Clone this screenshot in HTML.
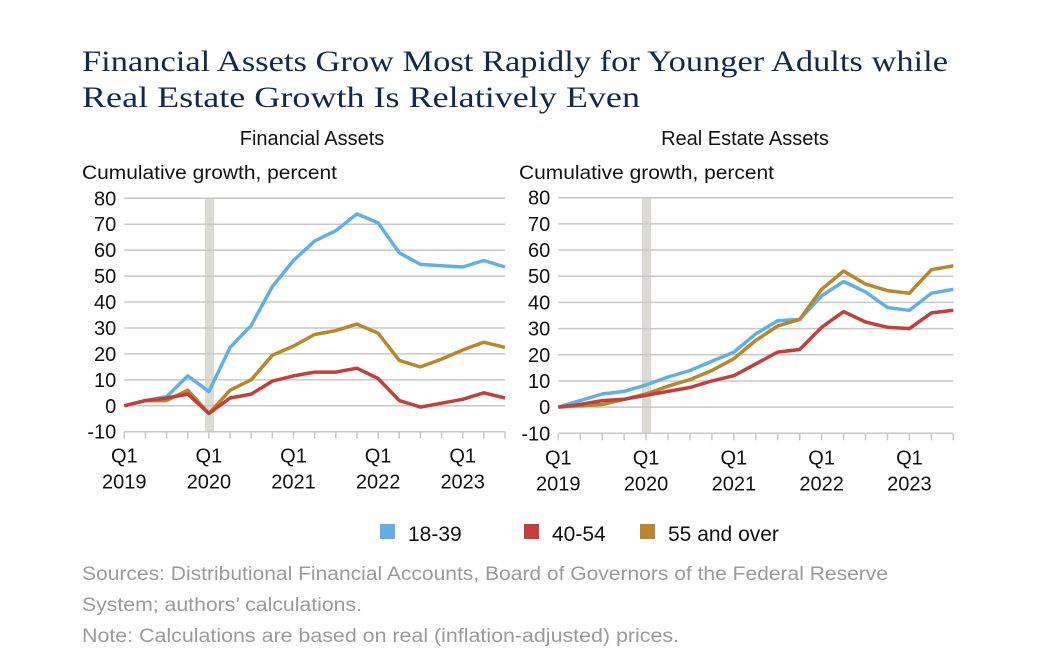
<!DOCTYPE html>
<html><head><meta charset="utf-8"><style>
body{margin:0;background:#fff}
svg{display:block}
text{font-family:"Liberation Sans",sans-serif}
</style></head><body>
<svg id="c" width="1042" height="672" viewBox="0 0 1042 672" xmlns="http://www.w3.org/2000/svg">
<text x="82" y="71" style="font-family:'Liberation Serif',serif" font-size="30" fill="#13294b" textLength="866" lengthAdjust="spacingAndGlyphs">Financial Assets Grow Most Rapidly for Younger Adults while</text>
<text x="82" y="107" style="font-family:'Liberation Serif',serif" font-size="30" fill="#13294b" textLength="558" lengthAdjust="spacingAndGlyphs">Real Estate Growth Is Relatively Even</text>
<text x="312" y="145" font-size="20" text-anchor="middle" fill="#111">Financial Assets</text>
<text x="745" y="145" font-size="20" text-anchor="middle" fill="#111">Real Estate Assets</text>
<text x="82" y="179" font-size="19" fill="#111" textLength="255" lengthAdjust="spacingAndGlyphs">Cumulative growth, percent</text>
<text x="519" y="179" font-size="19" fill="#111" textLength="255" lengthAdjust="spacingAndGlyphs">Cumulative growth, percent</text>
<g id="left"></g>
<g id="right"></g>
<g>
<rect x="380" y="524" width="15" height="15" fill="#62b0e3"/>
<text x="408" y="541" font-size="21" fill="#111">18-39</text>
<rect x="524" y="524" width="15" height="15" fill="#c1403d"/>
<text x="552" y="541" font-size="21" fill="#111">40-54</text>
<rect x="640" y="524" width="15" height="15" fill="#b8862b"/>
<text x="668" y="541" font-size="21" fill="#111">55 and over</text>
</g>
<text x="82" y="580" font-size="19" fill="#9a9a9a" textLength="806" lengthAdjust="spacingAndGlyphs">Sources: Distributional Financial Accounts, Board of Governors of the Federal Reserve</text>
<text x="82" y="611" font-size="19" fill="#9a9a9a" textLength="280" lengthAdjust="spacingAndGlyphs">System; authors’ calculations.</text>
<text x="82" y="642" font-size="19" fill="#9a9a9a" textLength="597" lengthAdjust="spacingAndGlyphs">Note: Calculations are based on real (inflation-adjusted) prices.</text>
</svg>
<script>
const yTicks=[80,70,60,50,40,30,20,10,0,-10];
const xLabelIdx=[0,4,8,12,16];
const xLabelYears=["2019","2020","2021","2022","2023"];
const recessionIdx=4;
const seriesNames=["18-39","40-54","55 and over"];
const finYoung=[0,2,3.5,11.5,5.5,22.5,31,46,56,63.5,67.5,74,70.5,59,54.5,54,53.5,56,53.5];
const finMid=[0,2,3,4.5,-3,3,4.5,9.5,11.5,13,13,14.5,10.5,2,-0.5,1,2.5,5,3];
const finOld=[0,2,2,6,-3,6,10,19.5,23,27.5,29,31.5,28,17.5,15,18,21.5,24.5,22.5];
const reYoung=[0,2.5,5,6,8.5,11.5,14,17.5,21,28,33,33.5,42.5,48,44,38,37,43.5,45];
const reMid=[0,1,2.5,3,4.5,6,7.5,10,12,16.5,21,22,30.5,36.5,32.5,30.5,30,36,37];
const reOld=[0,0.5,1,3,5,8,10.5,14,18.5,25.5,31,33.5,45,52,47,44.5,43.5,52.5,54];
const colors=["#62b0e3","#c1403d","#b8862b"];
const NS="http://www.w3.org/2000/svg";
function mk(p,t,a){const e=document.createElementNS(NS,t);for(const k in a)e.setAttribute(k,a[k]);p.appendChild(e);return e;}
function panel(g,x0,x1,yTop,yBot,series,tag){
  const n=series[0].length-1;
  const X=i=>x0+(x1-x0)*i/n;
  const Y=v=>yTop+(80-v)/90*(yBot-yTop);
  const rb=mk(g,"rect",{x:X(recessionIdx)-4,y:yTop,width:9,height:yBot-yTop,fill:"#dcdad6"});
  
  
  yTicks.forEach(v=>{
    if(v>-10){const l=mk(g,"line",{x1:x0,x2:x1,y1:Y(v),y2:Y(v),stroke:"#c8c8c8","stroke-width":1.5});
    
    }
    const t=mk(g,"text",{x:x0-8,y:Y(v)+7,"font-size":20,"text-anchor":"end",fill:"#111"});
    t.textContent=v;
    
    
  });
  const ax=mk(g,"line",{x1:x0,x2:x1,y1:Y(-10),y2:Y(-10),stroke:"#c8c8c8","stroke-width":1.5});
  
  
  for(let i=0;i<=n;i++){const tk=mk(g,"line",{x1:X(i),x2:X(i),y1:Y(-10),y2:Y(-10)+7,stroke:"#c8c8c8","stroke-width":1.5});
    
    }
  xLabelIdx.forEach((i,k)=>{
    const a=mk(g,"text",{x:X(i),y:Y(-10)+31,"font-size":20,"text-anchor":"middle",fill:"#111"});a.textContent="Q1";
    
    
    const b=mk(g,"text",{x:X(i),y:Y(-10)+57,"font-size":20,"text-anchor":"middle",fill:"#111"});b.textContent=xLabelYears[k];
    
    
  });
  [0,2,1].forEach(s=>{
    const d=series[s].map((v,i)=>(i?"L":"M")+X(i).toFixed(1)+","+Y(v).toFixed(1)).join("");
    const p=mk(g,"path",{d:d,fill:"none",stroke:colors[s],"stroke-width":3.5,"stroke-linejoin":"round"});
    
    
  });
}
panel(document.getElementById("left"),124.3,505,198.3,431.7,[finYoung,finMid,finOld],"financial");
panel(document.getElementById("right"),558.3,953.3,197.7,433.3,[reYoung,reMid,reOld],"real-estate");
</script>
</body></html>
